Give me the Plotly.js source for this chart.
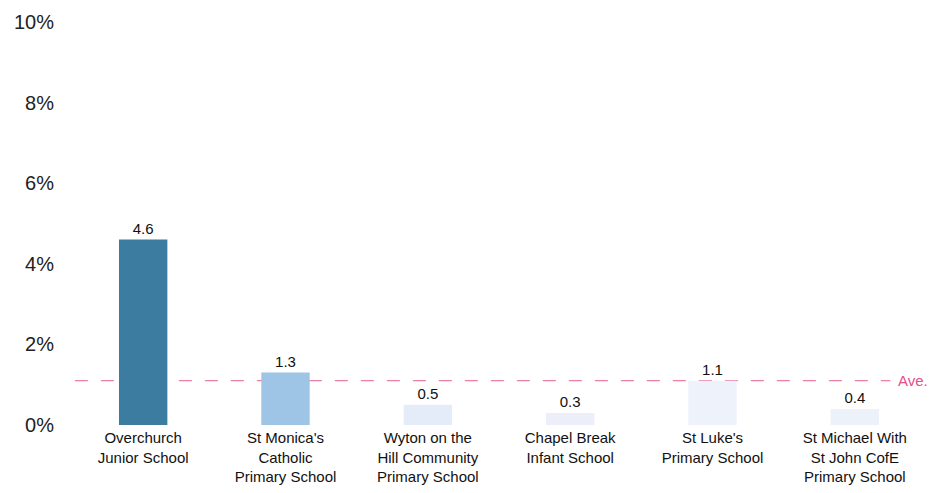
<!DOCTYPE html>
<html>
<head>
<meta charset="utf-8">
<script src="https://cdn.plot.ly/plotly-3.0.1.min.js"></script>
<style>html,body{margin:0;padding:0;background:#fff;}#chart{width:931px;height:493px;}</style>
</head>
<body>
<div id="chart"></div>
<script>
const schools = [
  "Overchurch<br>Junior School",
  "St Monica's<br>Catholic<br>Primary School",
  "Wyton on the<br>Hill Community<br>Primary School",
  "Chapel Break<br>Infant School",
  "St Luke's<br>Primary School",
  "St Michael With<br>St John CofE<br>Primary School"
];
const values = [4.6, 1.3, 0.5, 0.3, 1.1, 0.4];
const valueLabels = ["4.6", "1.3", "0.5", "0.3", "1.1", "0.4"];
const barColors = ["#3b7ca0", "#9ec4e6", "#e4ecfa", "#eceff9", "#edf2fb", "#edf1fa"];
const average = [1.1];
const averageLabel = "Ave.";
const yTicks = [0, 2, 4, 6, 8, 10];
const yTickText = ["0%", "2%", "4%", "6%", "8%", "10%"];

const trace = {
  type: "bar",
  x: schools,
  y: values,
  text: valueLabels,
  textposition: "outside",
  textfont: {family: "Liberation Sans, Arial, sans-serif", size: 15, color: "#111"},
  marker: {color: barColors},
  width: 0.34,
  cliponaxis: false,
  hoverinfo: "none"
};

const layout = {
  width: 931, height: 493,
  margin: {l: 72, r: 5, t: 22, b: 68},
  paper_bgcolor: "#fff", plot_bgcolor: "#fff",
  showlegend: false,
  font: {family: "Liberation Sans, Arial, sans-serif", color: "#111"},
  xaxis: {
    type: "category",
    range: [-0.5, 5.5],
    showgrid: false, zeroline: false, showline: false, ticks: "",
    tickfont: {size: 15, color: "#111"},
    tickangle: 0,
    ticklabelstandoff: 2,
    automargin: false
  },
  yaxis: {
    range: [0, 10],
    tickvals: yTicks, ticktext: yTickText,
    showgrid: false, zeroline: false, showline: false, ticks: "",
    tickfont: {size: 20, color: "#222"},
    ticklabelstandoff: 17,
    automargin: false
  },
  shapes: [{
    type: "line", xref: "x", yref: "y", layer: "below",
    x0: -0.48, x1: 5.25, y0: average[0], y1: average[0],
    line: {color: "#ec7fa6", width: 1.2, dash: "13px,13px"}
  }],
  annotations: [{
    xref: "x", yref: "y", x: 5.29, y: average[0],
    text: averageLabel, showarrow: false, xanchor: "left", yanchor: "middle",
    font: {size: 15, color: "#e2508a"}
  }]
};

Plotly.newPlot("chart", [trace], layout, {displayModeBar: false, staticPlot: true});
</script>
</body>
</html>
